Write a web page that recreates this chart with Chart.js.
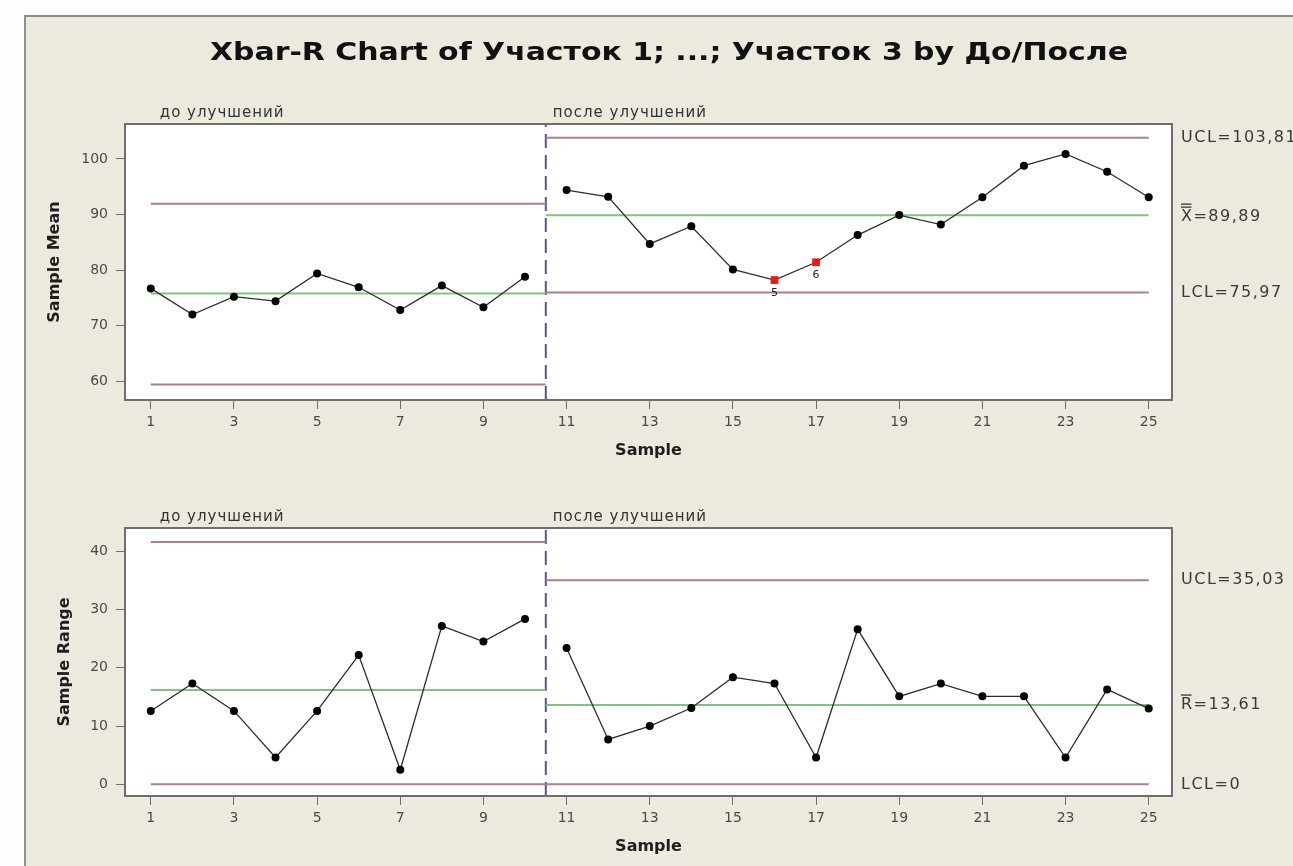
<!DOCTYPE html>
<html>
<head>
<meta charset="utf-8">
<title>Xbar-R Chart</title>
<script src="https://cdn.jsdelivr.net/npm/chart.js@4.4.1/dist/chart.umd.min.js"></script>
<style>
  html, body { margin: 0; padding: 0; background: #fdfdfd; width: 1293px; height: 866px; overflow: hidden; }
  #frame { position: absolute; left: 24px; top: 15px; width: 1290px; height: 870px;
           background: #ece9df; border-left: 2px solid #8e8e8e; border-top: 2px solid #8e8e8e; }
  canvas { position: absolute; left: 0; }
  #meanChart { top: 0; }
  #rangeChart { top: 470px; }
</style>
</head>
<body>
<div id="frame"></div>
<canvas id="meanChart" width="1293" height="470"></canvas>
<canvas id="rangeChart" width="1293" height="396"></canvas>
<script>
// --- data ---
const titleText = 'Xbar-R Chart of Участок 1; ...; Участок 3 by До/После';
const samples = [1,2,3,4,5,6,7,8,9,10,11,12,13,14,15,16,17,18,19,20,21,22,23,24,25];
const xTicks = [1,3,5,7,9,11,13,15,17,19,21,23,25];
const meanValues = [76.7,72.0,75.2,74.4,79.4,76.9,72.8,77.2,73.3,78.8,
                    94.4,93.2,84.7,87.9,80.1,78.2,81.4,86.3,89.9,88.2,93.1,98.8,100.9,97.7,93.1];
const rangeValues = [12.6,17.3,12.6,4.6,12.6,22.2,2.5,27.2,24.5,28.4,
                     23.4,7.7,10.0,13.1,18.4,17.3,4.6,26.6,15.1,17.3,15.1,15.1,4.6,16.3,13.0];
const meanTicks = [60,70,80,90,100];
const rangeTicks = [0,10,20,30,40];
const stageLabels = ['до улучшений', 'после улучшений'];
const stageSplit = 10.5;
// control limits per stage: [before, after]
const meanUCL = [91.95, 103.81];
const meanCL = [75.8, 89.89];
const meanLCL = [59.4, 75.97];
const rangeUCL = [41.6, 35.03];
const rangeCL = [16.2, 13.61];
const rangeLCL = [0, 0];
const meanLimitLabels = ['UCL=103,81', 'X=89,89', 'LCL=75,97'];
const rangeLimitLabels = ['UCL=35,03', 'R=13,61', 'LCL=0'];
// failed test numbers shown under the red points (sample -> test)
const flaggedSamples = [16, 17];
const flaggedTests = ['5', '6'];

const FONT = '"DejaVu Sans", Tahoma, sans-serif';
const LIMIT_RED = '#ad808a';
const CENTER_GREEN = '#82c282';
const LINE_COLOR = '#2e2e2e';

function limitSegments(ucl, cl, lcl) {
  const first = samples[0], last = samples[samples.length - 1];
  const seg = (v, a, b, color) => ({
    data: [{x: a, y: v}, {x: b, y: v}],
    borderColor: color, borderWidth: 2, pointRadius: 0, fill: false
  });
  return [
    seg(ucl[0], first, stageSplit, LIMIT_RED), seg(ucl[1], stageSplit, last, LIMIT_RED),
    seg(cl[0], first, stageSplit, CENTER_GREEN), seg(cl[1], stageSplit, last, CENTER_GREEN),
    seg(lcl[0], first, stageSplit, LIMIT_RED), seg(lcl[1], stageSplit, last, LIMIT_RED)
  ];
}

function pointDataset(values, flagged) {
  const isFlag = samples.map(s => flagged.includes(s));
  return {
    data: samples.map((s, i) => ({x: s, y: values[i]})),
    borderColor: LINE_COLOR, borderWidth: 1.3,
    // no connecting line across the stage boundary
    segment: {
      borderColor: c => (c.p0.parsed.x < stageSplit && c.p1.parsed.x > stageSplit) ? 'rgba(0,0,0,0)' : LINE_COLOR
    },
    pointStyle: isFlag.map(f => f ? 'rect' : 'circle'),
    pointRadius: isFlag.map(f => f ? 5.5 : 4),
    pointBackgroundColor: isFlag.map(f => f ? '#e01c1c' : '#000'),
    pointBorderColor: isFlag.map(f => f ? '#e01c1c' : '#000'),
    pointBorderWidth: 0, fill: false
  };
}

function splitLine(yMin, yMax) {
  return {
    data: [{x: stageSplit, y: yMin}, {x: stageSplit, y: yMax}],
    borderColor: '#55559c', borderWidth: 2, borderDash: [14, 7], pointRadius: 0, fill: false
  };
}

function makeScales(yMin, yMax, yTicks, yTitle, yTitlePad) {
  return {
    x: {
      type: 'linear', min: 0.38, max: 25.56,
      afterBuildTicks: s => { s.ticks = xTicks.map(v => ({value: v})); },
      afterFit: s => { s.height = 60; },
      grid: {drawOnChartArea: false, drawTicks: true, tickLength: 9, color: '#6e6e6e'},
      border: {display: false},
      ticks: {color: '#4a4a4a', font: {family: FONT, size: 14}, padding: 5,
              autoSkip: false, maxRotation: 0, callback: v => String(v)},
      title: {display: true, text: 'Sample', color: '#1e1e1e',
              font: {family: FONT, size: 16, weight: 'bold'}, padding: {top: 0, bottom: 0}}
    },
    y: {
      min: yMin, max: yMax,
      afterBuildTicks: s => { s.ticks = yTicks.map(v => ({value: v})); },
      afterFit: s => { s.width = 125; },
      grid: {drawOnChartArea: false, drawTicks: true, tickLength: 9, color: '#6e6e6e'},
      border: {display: false},
      ticks: {color: '#4a4a4a', font: {family: FONT, size: 14}, padding: 8, callback: v => String(v)},
      title: {display: true, text: yTitle, color: '#1e1e1e',
              font: {family: FONT, size: 16, weight: 'bold'}, padding: {top: yTitlePad, bottom: 0}}
    }
  };
}

// white plot area, box, stage labels, limit labels, test numbers
function decorations(limits, labels, barCount, withTitle) {
  return {
    id: 'decorations',
    beforeDraw(chart) {
      const {ctx, chartArea: a} = chart;
      ctx.save();
      ctx.fillStyle = '#ffffff';
      ctx.fillRect(a.left, a.top, a.right - a.left, a.bottom - a.top);
      ctx.restore();
    },
    afterDraw(chart) {
      const {ctx, chartArea: a, scales: {x, y}} = chart;
      ctx.save();
      ctx.strokeStyle = '#6e6e6e';
      ctx.lineWidth = 2;
      ctx.strokeRect(a.left, a.top, a.right - a.left, a.bottom - a.top);

      // stage labels above the plot
      ctx.fillStyle = '#333';
      ctx.font = '15px ' + FONT;
      ctx.letterSpacing = '1px';
      ctx.textBaseline = 'middle';
      ctx.textAlign = 'left';
      ctx.fillText(stageLabels[0], x.getPixelForValue(samples[0]) + 9, a.top - 11);
      ctx.fillText(stageLabels[1], x.getPixelForValue(stageSplit) + 7, a.top - 11);

      // limit labels on the right
      ctx.font = '16px ' + FONT;
      ctx.letterSpacing = '1.5px';
      ctx.fillStyle = '#3a3a3a';
      const lx = a.right + 9;
      labels.forEach((t, i) => {
        const py = y.getPixelForValue(limits[i]) + (i === 1 && barCount === 2 ? 2 : 0);
        ctx.fillText(t, lx, py);
        if (i === 1) {
          const w = ctx.measureText(t[0]).width - 2;
          ctx.strokeStyle = '#3a3a3a';
          ctx.lineWidth = 1.3;
          for (let b = 0; b < barCount; b++) {
            const by = py - 10 - b * 3;
            ctx.beginPath(); ctx.moveTo(lx, by); ctx.lineTo(lx + w, by); ctx.stroke();
          }
        }
      });

      // test numbers under the flagged points
      ctx.letterSpacing = '0px';
      ctx.font = '11px ' + FONT;
      ctx.textAlign = 'center';
      ctx.fillStyle = '#222';
      const meta = chart.getDatasetMeta(0);
      if (withTitle) {
        flaggedSamples.forEach((s, k) => {
          const p = meta.data[samples.indexOf(s)];
          ctx.fillText(flaggedTests[k], p.x, p.y + 13);
        });
        // chart title
        ctx.font = 'bold 25px "DejaVu Sans Condensed", "DejaVu Sans", sans-serif';
        ctx.fillStyle = '#111';
        ctx.textBaseline = 'alphabetic';
        const tw = ctx.measureText(titleText).width;
        ctx.translate(669, 60);
        ctx.scale(918 / tw, 1);
        ctx.fillText(titleText, 0, 0);
      }
      ctx.restore();
    }
  };
}

function buildChart(id, values, flagged, ucl, cl, lcl, yMin, yMax, yTicks, yTitle, yTitlePad,
                    padTop, labels, barCount, withTitle) {
  return new Chart(document.getElementById(id), {
    type: 'line',
    data: {
      datasets: [pointDataset(values, flagged), ...limitSegments(ucl, cl, lcl), splitLine(yMin, yMax)]
    },
    options: {
      responsive: false, animation: false, events: [],
      layout: {padding: {left: 0, right: 121, top: padTop, bottom: 10}},
      plugins: {legend: {display: false}, tooltip: {enabled: false}},
      scales: makeScales(yMin, yMax, yTicks, yTitle, yTitlePad)
    },
    plugins: [decorations([ucl[1], cl[1], lcl[1]], labels, barCount, withTitle)]
  });
}

buildChart('meanChart', meanValues, flaggedSamples, meanUCL, meanCL, meanLCL,
           56.6, 106.3, meanTicks, 'Sample Mean', 45, 124, meanLimitLabels, 2, true);
buildChart('rangeChart', rangeValues, [], rangeUCL, rangeCL, rangeLCL,
           -2.0, 44.0, rangeTicks, 'Sample Range', 55, 58, rangeLimitLabels, 1, false);
</script>
</body>
</html>
